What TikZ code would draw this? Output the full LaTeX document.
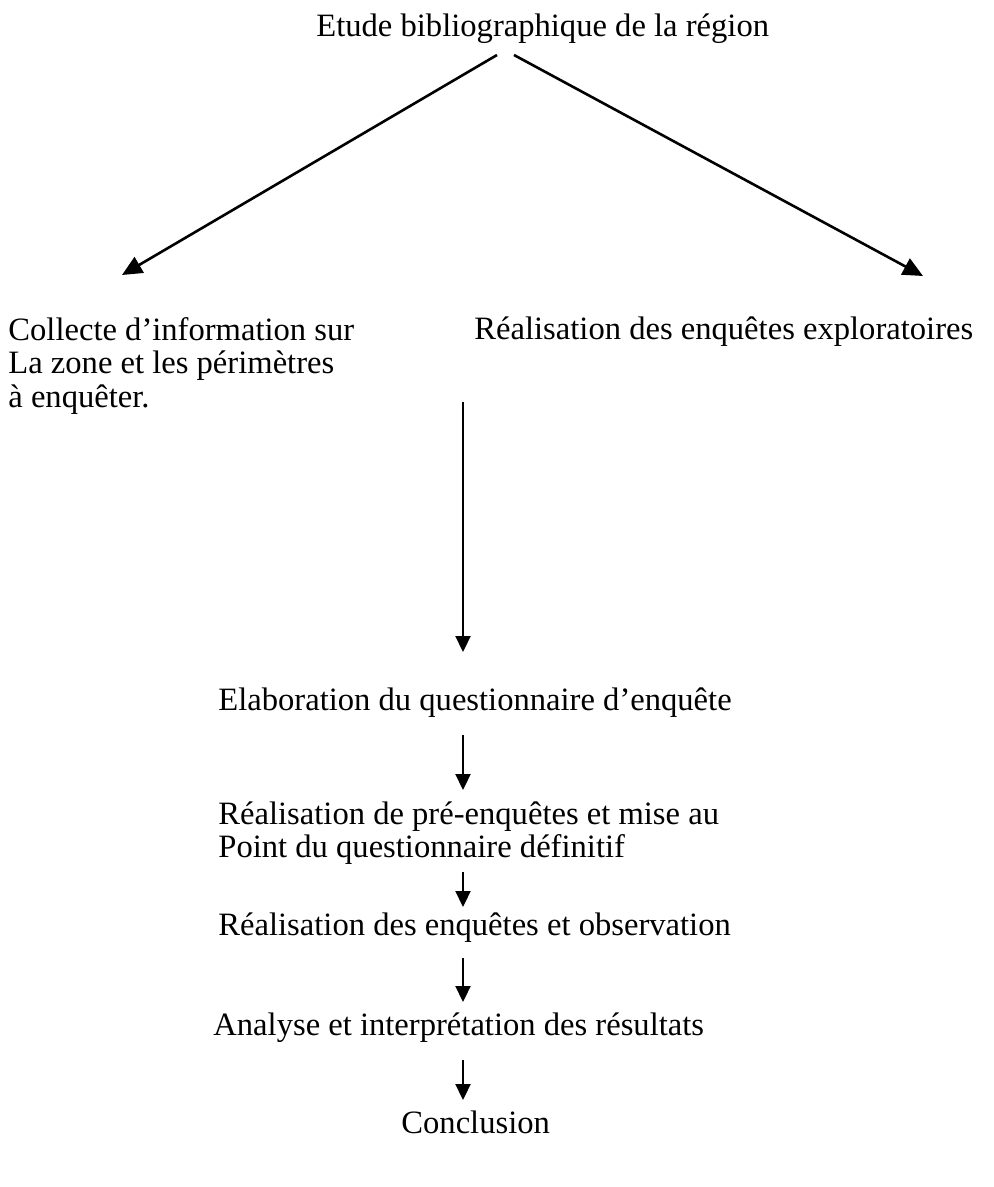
\documentclass[tikz,border=0pt]{standalone}
\usepackage{fontspec}
\setmainfont{Liberation Serif}
\usetikzlibrary{arrows.meta}
\begin{document}
\begin{tikzpicture}[x=0.5pt,y=-0.5pt,
  lbl/.style={inner sep=0pt,anchor=base west,font=\fontsize{16.3}{16.75}\selectfont},
  mlbl/.style={inner sep=0pt,anchor=north west,align=left,font=\fontsize{16.3}{16.75}\selectfont},
  bigarr/.style={line width=1.3pt,-{Triangle[length=10pt,width=9pt]}},
  smarr/.style={line width=1.1pt,-{Triangle[length=8pt,width=7.5pt]}}]
\useasboundingbox (0,0) rectangle (994,1187);
\node[lbl] (etude) at (316,37) {Etude bibliographique de la région};
\node[mlbl] (collecte) at (8,317) {Collecte d’information sur\\La zone et les périmètres\\à enquêter.};
\node[lbl] (explo) at (474,339) {Réalisation des enquêtes exploratoires};
\node[lbl] (elab) at (218,710) {Elaboration du questionnaire d’enquête};
\node[mlbl] (pre) at (218,801) {Réalisation de pré-enquêtes et mise au\\Point du questionnaire définitif};
\node[lbl] (obs) at (218,935) {Réalisation des enquêtes et observation};
\node[lbl] (ana) at (213,1035) {Analyse et interprétation des résultats};
\node[lbl] (concl) at (401,1133) {Conclusion};
% coordinates for connector ends
\coordinate (eL) at (497,55);
\coordinate (eR) at (514,55);
\coordinate (cT) at (122,275);
\coordinate (xT) at (923,276);
\coordinate (v0) at (463,402);
\coordinate (v1) at (463,652);
\coordinate (a1) at (463,735);
\coordinate (b1) at (463,790);
\coordinate (a2) at (463,872);
\coordinate (b2) at (463,907);
\coordinate (a3) at (463,958);
\coordinate (b3) at (463,1002);
\coordinate (a4) at (463,1060);
\coordinate (b4) at (463,1100);
\draw[bigarr] (eL) -- (cT);
\draw[bigarr] (eR) -- (xT);
\draw[smarr] (v0) -- (v1);
\draw[smarr] (a1) -- (b1);
\draw[smarr] (a2) -- (b2);
\draw[smarr] (a3) -- (b3);
\draw[smarr] (a4) -- (b4);
\end{tikzpicture}
\end{document}
